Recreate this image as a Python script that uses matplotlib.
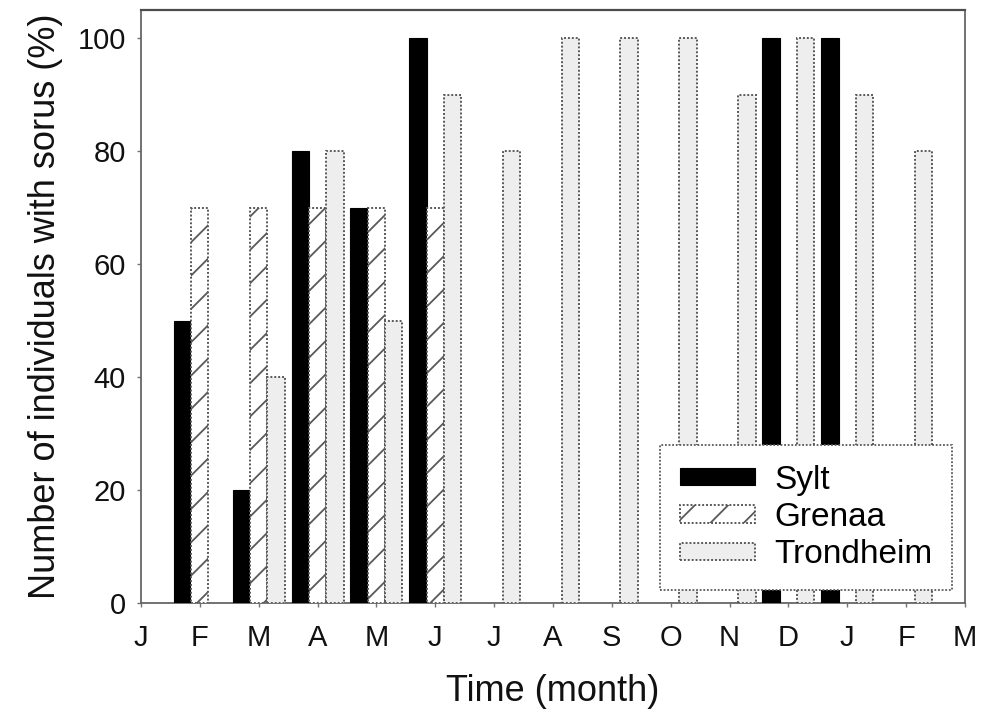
import numpy as np
import matplotlib
matplotlib.use("Agg")
import matplotlib.pyplot as plt

plt.rcParams['font.family'] = ['Liberation Sans', 'DejaVu Sans']
plt.rcParams['hatch.linewidth'] = 1.3
plt.rcParams['hatch.color'] = '0.25'

month_labels = ['J', 'F', 'M', 'A', 'M', 'J', 'J', 'A', 'S', 'O', 'N', 'D', 'J', 'F', 'M']
# sampling months (index into month_labels)
sample_months = [1, 2, 3, 4, 5, 6, 7, 8, 9, 10, 11, 12, 13]
nan = np.nan
sylt = [50, 20, 80, 70, 100, nan, nan, nan, nan, nan, 100, 100, nan]
grenaa = [70, 70, 70, 70, 70, nan, nan, nan, nan, nan, nan, nan, nan]
trondheim = [nan, 40, 80, 50, 90, 80, 100, 100, 100, 90, 100, 90, 80]

fig = plt.figure(figsize=(9.83, 7.12), dpi=100)
ax = fig.add_axes([0.1434, 0.1531, 0.8383, 0.8329])

x = np.array(sample_months, dtype=float)
w = 0.294
edge = '0.35'
ax.bar(x - w, np.array(sylt, float), width=w, color='black', edgecolor='black',
       linewidth=0.8, label='Sylt', zorder=3)
ax.bar(x, np.array(grenaa, float), width=w, color='white', edgecolor=edge,
       linewidth=1.4, linestyle=(0, (1, 1)), hatch='/', label='Grenaa', zorder=3)
ax.bar(x + w, np.array(trondheim, float), width=w, color='#eeeeee', edgecolor=edge,
       linewidth=1.4, linestyle=(0, (1, 1)), label='Trondheim', zorder=3)

ax.set_xlim(0, 14)
ax.set_ylim(0, 105)
ax.set_xticks(range(len(month_labels)))
ax.set_xticklabels(month_labels)
ax.set_yticks([0, 20, 40, 60, 80, 100])

ax.tick_params(axis='both', direction='out', length=3, width=1, color='0.45',
               labelsize=21, labelcolor='#111111')
ax.tick_params(axis='x', pad=12)
ax.tick_params(axis='y', pad=8)

for s in ['left', 'right', 'bottom']:
    ax.spines[s].set_color('0.4')
    ax.spines[s].set_linestyle((0, (1, 1)))
    ax.spines[s].set_linewidth(1.3)
ax.spines['top'].set_color('0.3')
ax.spines['top'].set_linewidth(1.6)

ax.set_xlabel('Time (month)', fontsize=26, color='#111111', labelpad=16)
ax.set_ylabel('Number of individuals with sorus (%)', fontsize=26, color='#111111', labelpad=10)

leg = ax.legend(loc='lower right', fontsize=24, frameon=True, fancybox=False,
                handlelength=2.24, handleheight=0.42, handletextpad=0.57,
                labelspacing=0.19, borderpad=0.6, borderaxespad=0.38)
frame = leg.get_frame()
frame.set_edgecolor('0.35')
frame.set_linestyle((0, (1, 1)))
frame.set_linewidth(1.3)
frame.set_facecolor('white')
frame.set_alpha(1)
leg.set_zorder(5)

fig.savefig('out.png', dpi=100)
